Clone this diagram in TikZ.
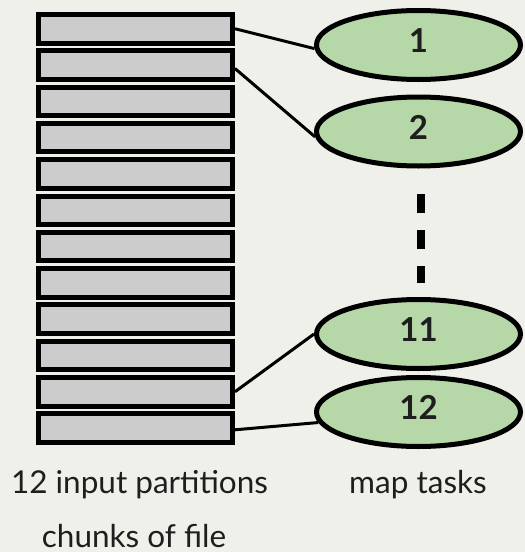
\documentclass[tikz,border=0pt]{standalone}
\usepackage{fontspec}
\usetikzlibrary{shapes.geometric}
\setmainfont{Lato}
\definecolor{bgcol}{HTML}{F0F0EB}
\definecolor{chunkgray}{HTML}{CCCCCC}
\definecolor{taskgreen}{HTML}{B6D7A8}
\definecolor{txtcol}{HTML}{1E1E1E}
\begin{document}
\begin{tikzpicture}[x=1pt,y=-1pt,
    chunk/.style={draw=black,line width=5pt,fill=chunkgray,minimum width=194pt,minimum height=28.5pt,inner sep=0pt},
    task/.style={ellipse,draw=black,line width=5pt,fill=taskgreen,minimum width=204pt,minimum height=69pt,inner sep=0pt,
        font=\fontsize{33}{38}\selectfont\bfseries,text=txtcol,text depth=9pt},
    caption/.style={font=\fontsize{31.5}{36}\selectfont,text=txtcol,anchor=base,inner sep=0pt},
    link/.style={line width=3pt}]
    \useasboundingbox[fill=bgcol] (0,0) rectangle (525,552);

    \node[chunk] (r1) at (135.5,28.75) {};
    \node[chunk] (r2) at (135.5,65.05) {};
    \node[chunk] (r3) at (135.5,101.35) {};
    \node[chunk] (r4) at (135.5,137.65) {};
    \node[chunk] (r5) at (135.5,173.95) {};
    \node[chunk] (r6) at (135.5,210.25) {};
    \node[chunk] (r7) at (135.5,246.55) {};
    \node[chunk] (r8) at (135.5,282.85) {};
    \node[chunk] (r9) at (135.5,319.15) {};
    \node[chunk] (r10) at (135.5,355.45) {};
    \node[chunk] (r11) at (135.5,391.75) {};
    \node[chunk] (r12) at (135.5,428.05) {};

    \node[task] (e1) at (418.5,45) {1};
    \node[task] (e2) at (418.5,131.5) {2};
    \node[task] (e11) at (418.5,334) {11};
    \node[task] (e12) at (418.5,412) {12};

    \coordinate (d1) at (421,194);
    \coordinate (d2) at (421,283);

    \node[caption] (parts) at (139.5,493) {12 input partitions};
    \node[caption] (chunks) at (134,547) {chunks of file};
    \node[caption] (maps) at (418,493) {map tasks};

    \draw[link] (r1.east) to (e1.182); \draw[link] (r2.-2.5) to (e2.183);
    \draw[link] (r11.east) to (e11.west); \draw[link] (r12.-1) to (e12.186);
    \draw[line width=8pt,dash pattern=on 19pt off 17pt] (d1) to (d2);
\end{tikzpicture}
\end{document}
